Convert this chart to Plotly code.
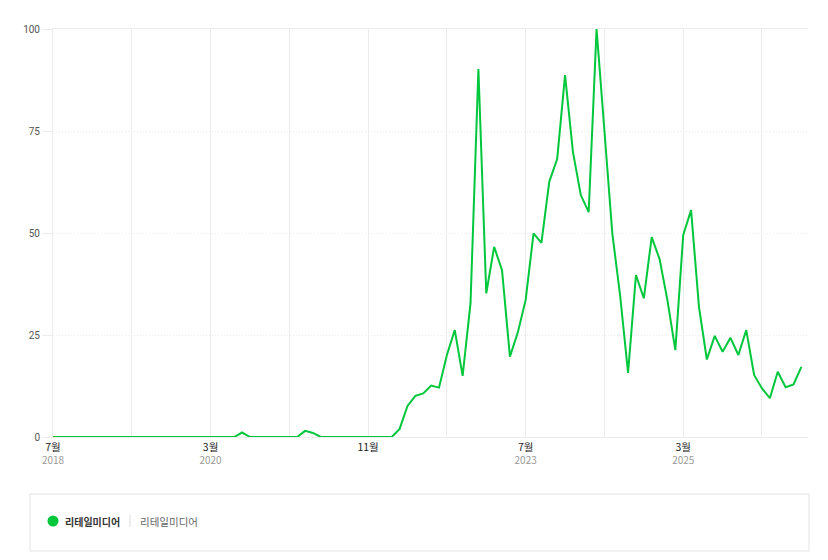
import plotly.graph_objects as go

# ---- data ----
start_year, start_month = 2018, 7
n_months = 96
months = []
for i in range(n_months):
    m = start_month - 1 + i
    months.append(f"{start_year + m // 12}-{m % 12 + 1:02d}")

values = [
    0, 0, 0, 0, 0, 0, 0, 0, 0, 0,          # 2018-07 .. 2019-04
    0, 0, 0, 0, 0, 0, 0, 0, 0, 0,          # 2019-05 .. 2020-02
    0, 0, 0, 0, 1.1, 0, 0, 0, 0, 0,        # 2020-03 .. 2020-12
    0, 0, 1.5, 1.0, 0, 0, 0, 0, 0, 0,      # 2021-01 .. 2021-10
    0, 0, 0, 0, 2.0, 7.6, 10.1, 10.7, 12.6, 12.1,   # 2021-11 .. 2022-08
    20.1, 26.2, 15.0, 32.8, 90.2, 35.2, 46.6, 40.9, 19.7, 25.6,  # 2022-09 .. 2023-06
    33.6, 49.9, 47.6, 62.6, 68.1, 88.7, 69.9, 59.3, 55.1, 100,   # 2023-07 .. 2024-04
    75.0, 49.9, 34.5, 15.7, 39.7, 34.0, 49.0, 43.6, 33.5, 21.3,  # 2024-05 .. 2025-02
    49.5, 55.6, 31.9, 19.0, 24.8, 20.9, 24.3, 20.1, 26.2, 15.2,  # 2025-03 .. 2025-12
    11.9, 9.5, 16.0, 12.2, 12.9, 17.2,                           # 2026-01 .. 2026-06
]

series_name = "리테일미디어"
tick_months = months[0::10]
tick_labels = {0: ("7월", "2018"), 20: ("3월", "2020"), 40: ("11월", ""),
               60: ("7월", "2023"), 80: ("3월", "2025")}
y_ticks = [0, 25, 50, 75, 100]

GREEN = "#00c73c"
W, H = 828, 560
L, R, T, B = 53, 20, 29, 123
PW, PH = W - L - R, H - T - B


def px(x):
    return (x - L) / PW


def py(y):
    return (H - B - y) / PH


ticktext = []
for i in range(0, n_months, 10):
    if i in tick_labels:
        mo, yr = tick_labels[i]
        t = f"<span style='color:#222'>{mo}</span>"
        if yr:
            t += f"<br><span style='color:#9a9a9a;font-size:10px'>{yr}</span>"
        ticktext.append(t)
    else:
        ticktext.append("")

fig = go.Figure()
fig.add_trace(go.Scatter(
    x=months, y=values, mode="lines", name=series_name,
    line=dict(color=GREEN, width=2), cliponaxis=False,
    hoverinfo="x+y",
))

fig.update_layout(
    width=W, height=H,
    margin=dict(l=L, r=R, t=T, b=B),
    paper_bgcolor="white", plot_bgcolor="white",
    showlegend=False,
    font=dict(family="Liberation Sans Narrow, Roboto, Noto Sans CJK KR", size=10, color="#444"),
    xaxis=dict(
        type="category", range=[0, 95.84],
        tickmode="array", tickvals=tick_months, ticktext=ticktext,
        showgrid=True, gridcolor="#ececec", gridwidth=1,
        showline=True, mirror=True, linecolor="#ececec", linewidth=1,
        ticks="", tickangle=0,
        tickfont=dict(family="Noto Sans CJK KR", size=10.5, color="#222"),
        zeroline=False,
    ),
    yaxis=dict(
        range=[0, 100], tickvals=y_ticks,
        showgrid=True, gridcolor="#ebebeb", griddash="1px,2px", gridwidth=1,
        showline=True, linecolor="#ececec",
        ticks="outside", ticklen=10, tickcolor="#ececec",
        tickfont=dict(family="Liberation Sans Narrow, Roboto", size=10, color="#555"),
        zeroline=False,
    ),
)

# legend box
fig.add_shape(type="rect", xref="paper", yref="paper",
              x0=px(30), x1=px(809), y0=py(551), y1=py(494),
              line=dict(color="#e3e3e3", width=1), fillcolor="white", layer="below")
fig.add_shape(type="circle", xref="paper", yref="paper",
              x0=px(47.5), x1=px(58.5), y0=py(526.5), y1=py(515.5),
              line=dict(width=0), fillcolor=GREEN)
fig.add_shape(type="line", xref="paper", yref="paper",
              x0=px(130), x1=px(130), y0=py(527), y1=py(515),
              line=dict(color="#dddddd", width=1))
fig.add_annotation(xref="paper", yref="paper", x=px(63), y=py(521),
                   xanchor="left", yanchor="middle", showarrow=False,
                   text=f"<b>{series_name}</b>",
                   font=dict(family="Noto Sans CJK KR", size=10, color="#333"))
fig.add_annotation(xref="paper", yref="paper", x=px(138), y=py(521),
                   xanchor="left", yanchor="middle", showarrow=False,
                   text=series_name,
                   font=dict(family="Noto Sans CJK KR", size=10.5, color="#666"))

fig.write_html("out.html")
